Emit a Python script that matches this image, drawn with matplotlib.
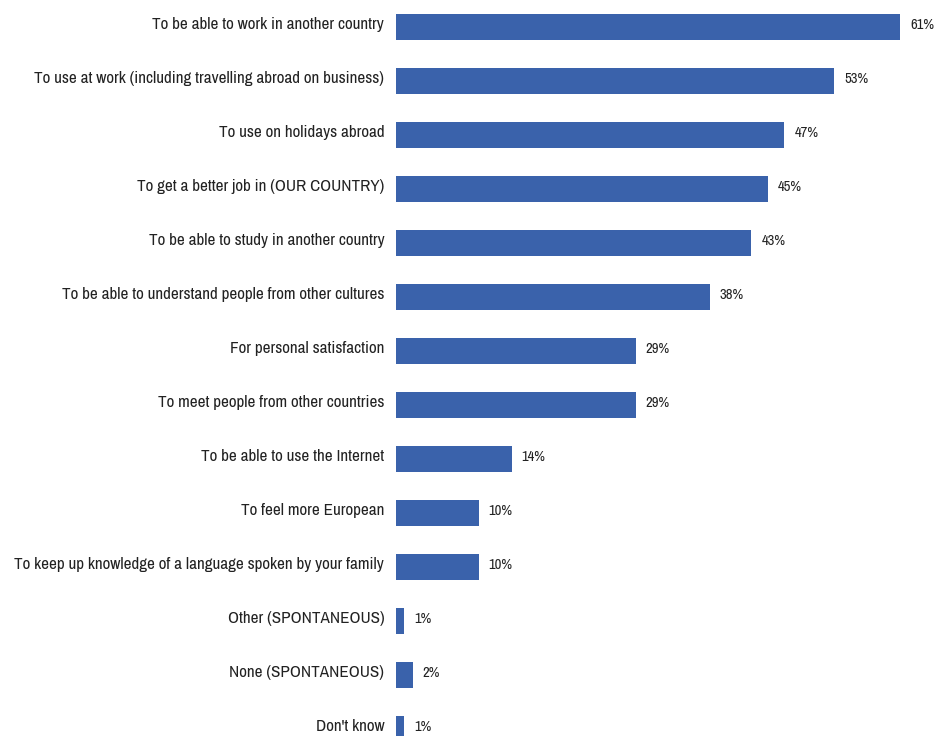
import matplotlib
matplotlib.use("Agg")
import matplotlib.pyplot as plt
from matplotlib.transforms import ScaledTranslation

reasons = [
    "To be able to work in another country",
    "To use at work (including travelling abroad on business)",
    "To use on holidays abroad",
    "To get a better job in (OUR COUNTRY)",
    "To be able to study in another country",
    "To be able to understand people from other cultures",
    "For personal satisfaction",
    "To meet people from other countries",
    "To be able to use the Internet",
    "To feel more European",
    "To keep up knowledge of a language spoken by your family",
    "Other (SPONTANEOUS)",
    "None (SPONTANEOUS)",
    "Don't know",
]
shares = [61, 53, 47, 45, 43, 38, 29, 29, 14, 10, 10, 1, 2, 1]

plt.rcParams['font.family'] = ['Archivo Narrow', 'Roboto Condensed', 'Liberation Sans', 'DejaVu Sans']

BAR_COLOR = '#3A62AB'

fig = plt.figure(figsize=(9.34, 7.36), dpi=100)
ax = fig.add_axes([396 / 934, 0, 538 / 934, 1])
lift = ScaledTranslation(0, 0.02, fig.dpi_scale_trans)  # nudge text up ~2px

ypos = list(range(len(reasons)))
ax.barh(ypos, shares, height=0.47, color=BAR_COLOR)
for y, v in zip(ypos, shares):
    ax.text(v + 1.2, y, f"{v}%", va='center', ha='left', fontsize=10.6,
            color='#222222', transform=ax.transData + lift)

ax.set_xlim(0, 65.1)
ax.set_ylim(13.13, -0.5)
ax.set_yticks(ypos)
ax.set_yticklabels(reasons, fontsize=12.3, color='#222222', va='center')
ax.tick_params(axis='y', length=0, pad=8.5)
for lab in ax.get_yticklabels():
    lab.set_transform(lab.get_transform() + lift)
ax.set_xticks([])
for s in ax.spines.values():
    s.set_visible(False)

fig.savefig("out.png", dpi=100)
